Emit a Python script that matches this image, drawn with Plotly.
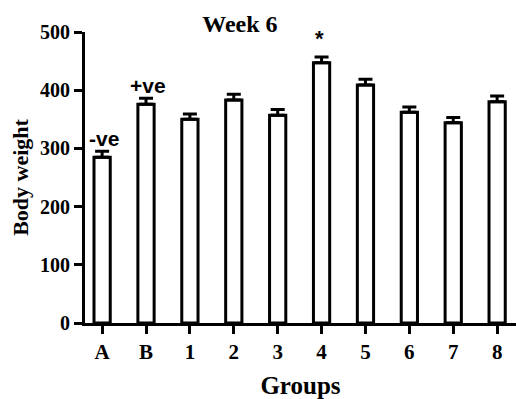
import plotly.graph_objects as go

groups = ["A", "B", "1", "2", "3", "4", "5", "6", "7", "8"]
body_weight = [285, 376, 350, 383, 357, 447, 409, 362, 344, 380]
sem = [10, 10, 9, 10, 10, 10, 10, 9, 9, 10]
y_ticks = [0, 100, 200, 300, 400, 500]
labels = {"A": "-ve", "B": "+ve", "4": "*"}

serif = "Liberation Serif"
fig = go.Figure()
fig.add_trace(go.Bar(
    x=list(range(len(groups))), y=body_weight,
    width=0.37,
    marker=dict(color="white", line=dict(color="black", width=3)),
    error_y=dict(type="data", array=sem, arrayminus=[0]*len(sem), symmetric=False,
                 color="black", thickness=3, width=7),
))

for g, txt in labels.items():
    i = groups.index(g)
    fig.add_annotation(x=i, y=body_weight[i] + sem[i], text="<b>%s</b>" % txt,
                       showarrow=False, yanchor="bottom",
                       xshift=2 if txt != "*" else -2,
                       yshift=-1 if txt != "*" else 4,
                       font=dict(family="Liberation Sans", size=21 if txt != "*" else 22, color="black"))

fig.update_layout(
    width=516, height=399,
    margin=dict(l=85, r=0, t=32, b=76),
    plot_bgcolor="white", paper_bgcolor="white",
    showlegend=False,
    title=dict(text="<b>Week 6</b>", x=0.465, xanchor="center", y=0.94, yanchor="middle",
               font=dict(family=serif, size=24, color="black")),
    font=dict(family=serif, color="black"),
)
fig.update_xaxes(
    range=[-0.39, 9.43], tickvals=list(range(len(groups))), ticktext=["<b>%s</b>" % g for g in groups],
    showline=True, linecolor="black", linewidth=3, ticks="outside", ticklen=8, tickwidth=3,
    tickcolor="black", showgrid=False, zeroline=False,
    tickfont=dict(family=serif, size=21, color="black"),
    title=dict(text="<b>Groups</b>", font=dict(family=serif, size=25, color="black"), standoff=14),
)
fig.update_yaxes(
    range=[0, 500], tickvals=y_ticks, ticktext=["<b>%d</b>" % v for v in y_ticks],
    showline=True, linecolor="black", linewidth=3, ticks="outside", ticklen=8, tickwidth=3,
    tickcolor="black", showgrid=False, zeroline=False,
    tickfont=dict(family=serif, size=20, color="black"),
    title=dict(text="<b>Body weight</b>", font=dict(family=serif, size=22, color="black"), standoff=6),
)
fig.write_html("out.html", config={"displayModeBar": False},
               post_script="document.body.style.margin='0';document.body.style.padding='0';")
